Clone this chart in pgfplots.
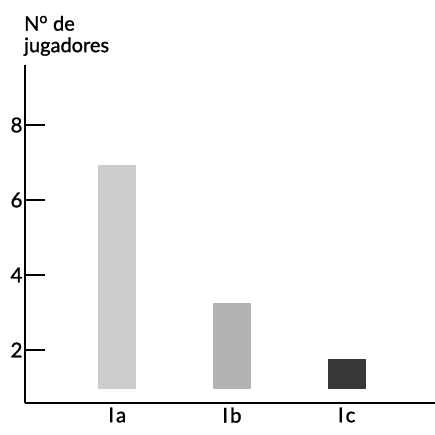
\documentclass[border=0pt]{standalone}
\usepackage{pgfplots}
\pgfplotsset{compat=1.18}
\usepackage{fontspec}
\setmainfont{Lato}[UprightFeatures={FakeBold=1.2}]
\begin{document}
\begin{tikzpicture}
\begin{axis}[name=ax,
  scale only axis, width=410pt, height=338pt,
  xmin=0.196, xmax=3.77, ymin=0.587, ymax=9.6,
  axis lines=left, axis line style={line width=2pt, -},
  ybar stacked, bar width=38pt,
  xtick={1,2,3}, xticklabels={I\kern2pt a,I\kern2pt b,I\kern2pt c},
  xtick style={draw=none},
  ytick={2,4,6,8},
  tick align=inside, major tick length=20pt,
  ytick style={line width=1.3pt, black},
  tick label style={font=\fontsize{20.5}{22}\selectfont},
  /pgf/number format/assume math mode=true,
  yticklabel style={xshift=1pt},
  xticklabel style={yshift=-1pt},
  clip=false,
]
% invisible base so the bars start at about 1
\addplot[fill=none, draw=none] coordinates {(1,0.95) (2,0.95) (3,0.95)};
\addplot[fill=black!20, draw=none] coordinates {(1,5.98) (2,0) (3,0)};
\addplot[fill=black!30, draw=none] coordinates {(1,0) (2,2.30) (3,0)};
\addplot[fill=black!78, draw=none] coordinates {(1,0) (2,0) (3,0.81)};
\end{axis}
\node[anchor=south west, align=left, inner sep=0pt,
  font=\fontsize{20}{21.5}\selectfont] at ([xshift=-1pt,yshift=9pt]ax.north west) {N\textsuperscript{o} de\\jugadores};
\pgfresetboundingbox
\path ([xshift=-25pt,yshift=-31pt]ax.south west) rectangle ([yshift=65pt]ax.north east);
\end{tikzpicture}
\end{document}
